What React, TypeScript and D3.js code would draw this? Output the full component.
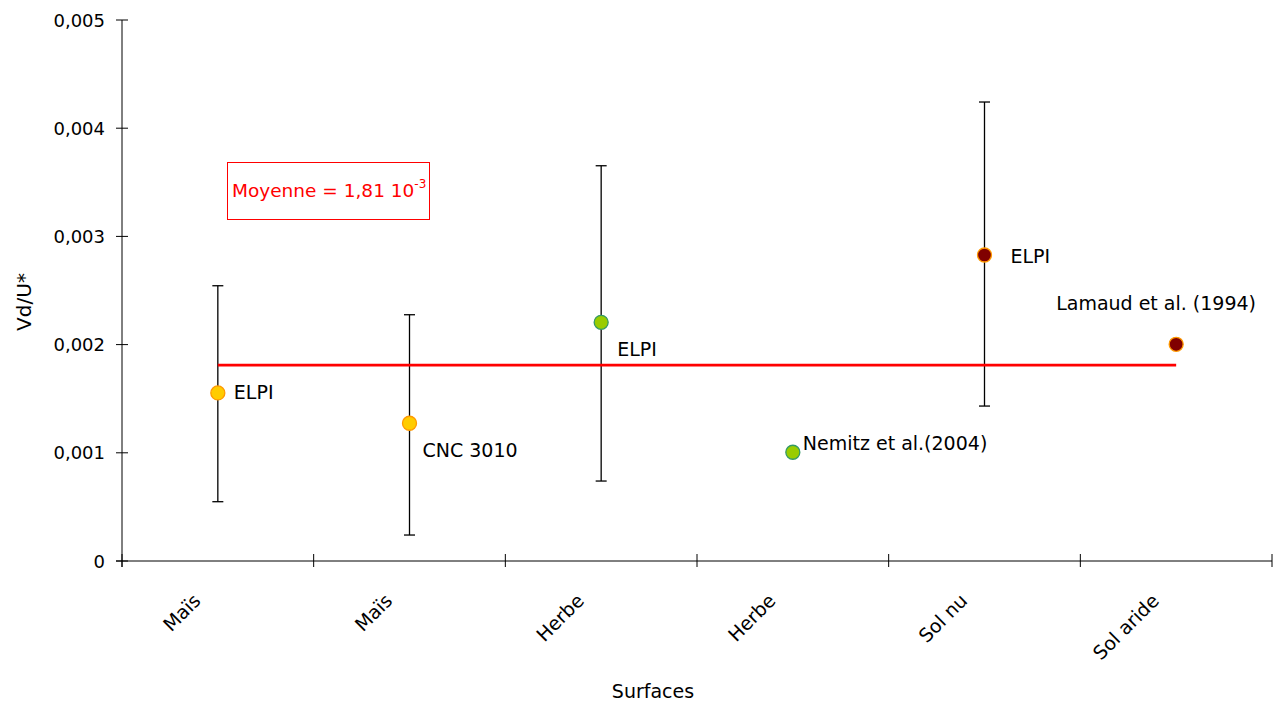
import React from "react";
import * as d3 from "d3";

const categories = ["Maïs", "Maïs", "Herbe", "Herbe", "Sol nu", "Sol aride"];
const values = [0.001553, 0.001273, 0.002206, 0.001005, 0.002828, 0.002003];
const errLow = [0.000548, 0.00024, 0.000739, null, 0.001432, null];
const errHigh = [0.002544, 0.002276, 0.003653, null, 0.004242, null];
const pointLabels = ["ELPI", "CNC 3010", "ELPI", "Nemitz et al.(2004)", "ELPI", "Lamaud et al. (1994)"];
const fills = ["#FFCC00", "#FFCC00", "#99CC00", "#99CC00", "#800000", "#800000"];
const strokes = ["#FF9900", "#FF9900", "#339966", "#339966", "#FF9900", "#FF9900"];
const yTicks = [0, 0.001, 0.002, 0.003, 0.004, 0.005];
const meanValue = 0.00181;

// label offsets relative to point (dx, dy of baseline)
const labelOffsets: [number, number][] = [
  [16, 6],
  [13, 34],
  [16, 34],
  [10, -2],
  [26, 8],
  [-120, -34],
];

const W = 1276;
const H = 704;
const left = 122;
const right = 1272;
const top = 20;
const bottom = 561;
const font = "'DejaVu Sans', sans-serif";

export default function App() {
  const x = d3
    .scaleBand<number>()
    .domain(categories.map((_, i) => i))
    .range([left, right]);
  const y = d3.scaleLinear().domain([0, 0.005]).range([bottom, top]);
  const fmt = (v: number) => (v === 0 ? "0" : d3.format(".3f")(v).replace(".", ","));
  const cx = (i: number) => (x(i) as number) + x.bandwidth() / 2;
  const bandEdges = categories.map((_, i) => x(i) as number).concat([right]);

  return (
    <svg
      width={W}
      height={H}
      style={{ position: "absolute", left: 0, top: 0, background: "#fff" }}
      fontFamily={font}
    >
      <rect x={0} y={0} width={W} height={H} fill="#fff" />
      {/* y axis */}
      <line x1={left} x2={left} y1={top} y2={bottom + 6} stroke="#000" strokeWidth={1} />
      {yTicks.map((t) => (
        <g key={t}>
          <line x1={left - 6} x2={left + 6} y1={y(t)} y2={y(t)} stroke="#000" />
          <text x={left - 17} y={y(t) + 6.5} textAnchor="end" fontSize={18} fill="#000">
            {fmt(t)}
          </text>
        </g>
      ))}
      {/* x axis */}
      <line x1={left - 6} x2={right} y1={bottom} y2={bottom} stroke="#000" />
      {bandEdges.map((e, i) => (
        <line key={i} x1={e} x2={e} y1={bottom - 7} y2={bottom + 6} stroke="#000" />
      ))}
      {categories.map((c, i) => (
        <text
          key={i}
          transform={`translate(${cx(i) - 16},${bottom + 41}) rotate(-45)`}
          textAnchor="end"
          fontSize={19}
          fill="#000"
        >
          {c}
        </text>
      ))}
      <text x={653} y={698} textAnchor="middle" fontSize={19} fill="#000">
        Surfaces
      </text>
      <text
        transform={`translate(31,302) rotate(-90)`}
        textAnchor="middle"
        fontSize={20}
        fill="#000"
      >
        Vd/U*
      </text>
      {/* error bars */}
      {categories.map((_, i) => {
        const lo = errLow[i];
        const hi = errHigh[i];
        if (lo == null || hi == null) return null;
        const px = cx(i);
        return (
          <g key={i} stroke="#000" strokeWidth={1.3}>
            <line x1={px} x2={px} y1={y(hi)} y2={y(lo)} />
            <line x1={px - 5.5} x2={px + 5.5} y1={y(hi)} y2={y(hi)} />
            <line x1={px - 5.5} x2={px + 5.5} y1={y(lo)} y2={y(lo)} />
          </g>
        );
      })}
      {/* mean line */}
      <line
        x1={cx(0)}
        x2={cx(categories.length - 1)}
        y1={y(meanValue)}
        y2={y(meanValue)}
        stroke="#FF0000"
        strokeWidth={2.6}
      />
      {/* points */}
      {values.map((v, i) => (
        <circle key={i} cx={cx(i)} cy={y(v)} r={7} fill={fills[i]} stroke={strokes[i]} strokeWidth={1.3} />
      ))}
      {values.map((v, i) => (
        <text
          key={"l" + i}
          x={cx(i) + labelOffsets[i][0]}
          y={y(v) + labelOffsets[i][1]}
          fontSize={19}
          fill="#000"
        >
          {pointLabels[i]}
        </text>
      ))}
      {/* mean legend box */}
      <rect x={227.5} y={162.5} width={202} height={57} fill="#fff" stroke="#FF0000" strokeWidth={1} />
      <text x={232} y={197} fontSize={18.5} fill="#FF0000">
        Moyenne = 1,81 10
        <tspan dy={-9} fontSize={12}>
          -3
        </tspan>
      </text>
    </svg>
  );
}
